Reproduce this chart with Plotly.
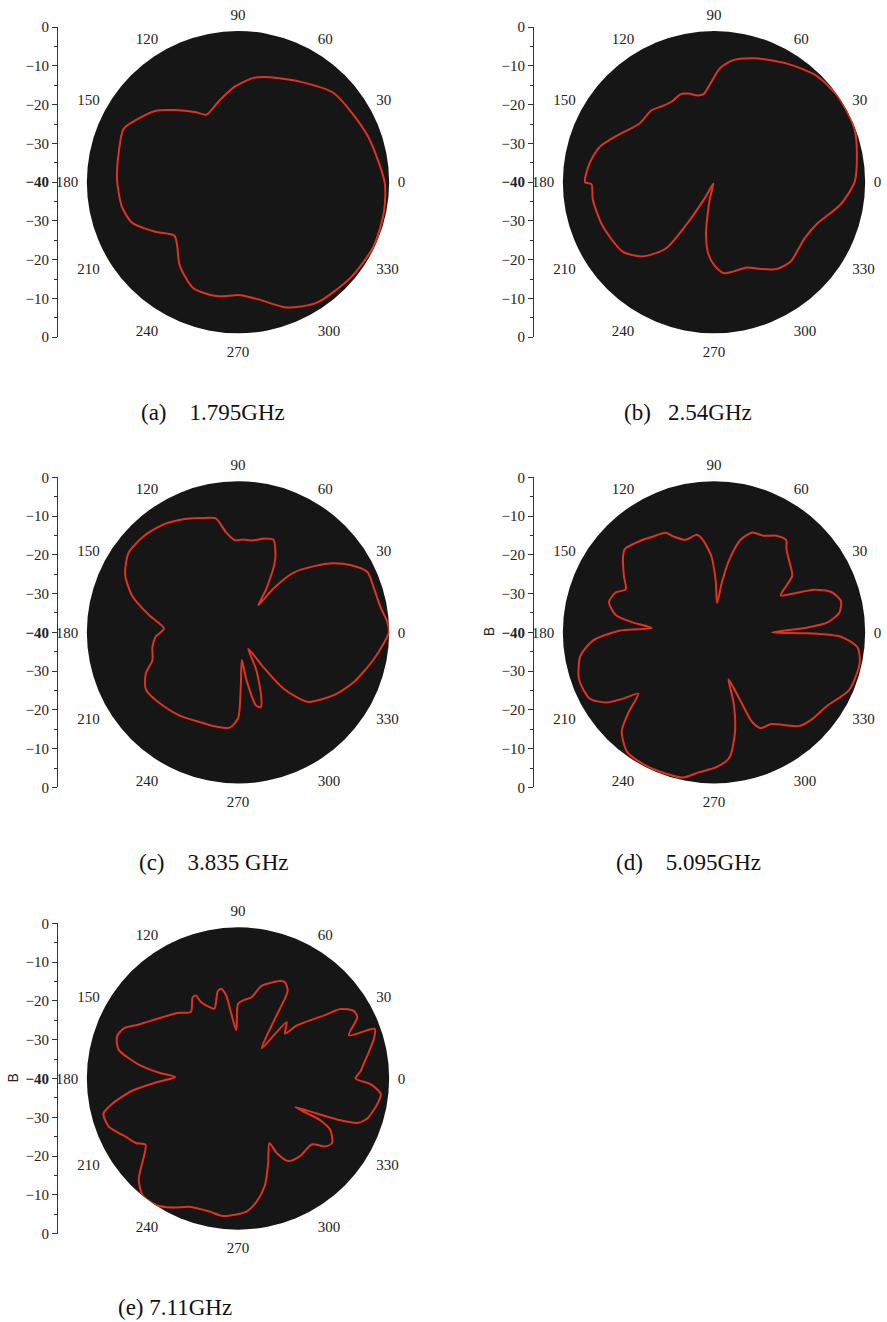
import plotly.graph_objects as go

# Measured behaviour of the renderer: the page is photographed with an extra
# 8px above the figure and a vertical factor of ~0.9876; compensate for both.
TOP_SHIFT = 8
SCALE_Y = 0.9876
W, H = 887, 1331

# ---------------- data (angle in degrees, level in dB) ----------------
theta_a = [0, 20, 43, 58, 75, 82, 93, 103, 115, 121, 131, 139, 147, 155, 165, 179,
           192, 201, 211, 220, 226, 235, 247, 259, 271, 280, 291, 303, 320, 335, 349, 360]
r_a = [-1.2, -3.6, -5.4, -8.7, -11.2, -12.2, -15.0, -17.9, -20.3, -18.4, -14.7, -11.2,
       -8.9, -6.6, -7.4, -8.0, -8.6, -10.0, -14.5, -18.0, -16.8, -13.1, -9.6, -9.3,
       -10.1, -8.5, -4.5, -1.9, -0.9, -0.3, -0.6, -1.2]

theta_b = [0, 10, 21, 34, 46, 58, 72, 81, 87, 92, 97, 101, 106, 111, 117, 124, 131, 142,
           153, 163, 172, 180, 181, 188, 201, 217, 226, 234, 237, 240, 248, 256, 261, 265,
           270, 276, 282, 291, 298, 306, 314, 328, 338, 350, 360]
r_b = [-2.8, -1.6, -0.2, -0.1, -0.9, -3.1, -5.5, -7.3, -9.8, -13.8, -16.6, -16.6, -15.6,
       -15.1, -15.9, -15.7, -14.8, -14.9, -12.0, -8.3, -6.6, -5.9, -7.6, -7.6, -8.3, -9.6,
       -12.7, -18.3, -26.8, -35.2, -39.6, -35.2, -26.5, -21.4, -18.1, -15.8, -15.8, -15.8,
       -14.0, -11.6, -10.8, -11.8, -10.6, -6.0, -2.8]

theta_c = [0, 4, 10, 18, 25, 31, 36, 41, 47, 51, 53, 57, 63, 69, 74, 81, 87, 92, 97, 101,
           106, 115, 124, 134, 144, 153, 161, 169, 177, 183, 190, 198, 204, 212, 224, 235,
           247, 257, 265, 270, 273, 278, 280, 284, 287, 290, 296, 302, 306, 309, 315, 327,
           337, 349, 360]
r_c = [-0.1, -0.4, -1.7, -2.2, -2.2, -5.4, -8.9, -13.3, -18.4, -25.1, -31.1, -26.2, -18.3,
       -13.8, -14.2, -15.4, -15.4, -15.6, -13.2, -9.3, -8.5, -6.9, -5.4, -4.4, -4.2, -6.5,
       -10.4, -16.0, -20.4, -18.2, -17.0, -16.2, -13.3, -11.3, -12.2, -13.1, -14.2, -14.4,
       -14.7, -17.2, -25.8, -32.6, -27.3, -20.0, -19.3, -22.1, -29.0, -34.9, -28.8, -20.8,
       -14.0, -9.6, -6.6, -3.3, -0.1]

theta_d = [0, 3, 5, 9, 14, 19, 23, 26, 29, 33, 36, 43, 49, 52, 57, 63, 69, 74, 78, 81, 84,
           88, 92, 97, 100, 107, 113, 116, 123, 129, 137, 141, 148, 154, 158, 164, 170, 173,
           176, 179, 184, 190, 199, 208, 213, 216, 219, 223, 227, 234, 243, 251, 258, 264,
           271, 277, 282, 285.6, 287.1, 291, 293, 296, 302, 307, 312, 318, 327, 337, 348,
           354, 358, 359.4, 360]
r_d = [-24.6, -15.2, -9.8, -6.4, -5.4, -7.2, -11.2, -16.5, -19.8, -17.0, -14.4, -12.7,
       -10.8, -9.0, -9.5, -11.3, -11.7, -14.5, -20.2, -26.5, -32.2, -26.6, -19.8, -15.3,
       -13.8, -14.4, -12.4, -10.7, -9.9, -8.9, -7.7, -9.0, -11.9, -14.0, -11.9, -11.1,
       -13.6, -18.3, -23.5, -14.9, -7.8, -4.1, -2.2, -2.7, -5.9, -10.1, -14.2, -9.2, -4.2,
       -0.9, -0.4, -0.5, -0.7, -2.8, -4.3, -6.6, -13.2, -20.8, -27.0, -21.0, -14.3, -11.8,
       -11.4, -9.3, -6.6, -5.4, -4.3, -1.1, -0.6, -1.8, -6.4, -15.3, -24.6]

theta_e = [0, 3.4, 7, 11.6, 16.4, 20, 21.3, 27.2, 30.3, 34.1, 36.3, 42, 43.7, 49.2, 52,
           58.3, 60.5, 63.9, 65.9, 75.7, 80.6, 86.3, 90, 92, 95.9, 98.1, 100.6, 102.9, 108.6,
           110.8, 115.8, 116.9, 119.2, 125.3, 132.7, 140.2, 148, 152, 156.3, 160.8, 166.4,
           172, 175.8, 178.6, 182.8, 186.6, 191.4, 194.6, 200.4, 207.3, 212.2, 215.6, 219.6,
           225.4, 230.7, 237, 243.1, 249.2, 257.9, 263.7, 273.6, 278.5, 284.1, 289.7, 295.9,
           297.5, 301.4, 308.6, 318.2, 322.2, 325.5, 330.8, 333.1, 333.4, 336, 337.8, 339.6,
           342.8, 349.7, 353.8, 357.5, 360]
r_e = [-8.9, -7.5, -6.4, -4.6, -2.5, -1.5, -8.5, -4.5, -4.5, -7.2, -11.9, -19.0, -22.8,
       -20.3, -29.8, -21.4, -13.3, -11.7, -11.7, -14.7, -18.2, -19.3, -20.2, -27.2, -22.8,
       -17.8, -15.9, -16.2, -20.5, -20.0, -17.6, -15.4, -15.4, -18.4, -16.4, -14.5, -11.7,
       -9.8, -7.0, -6.1, -7.5, -13.5, -19.1, -23.4, -18.2, -11.8, -6.0, -3.2, -3.5, -6.5,
       -8.0, -9.9, -7.7, -2.6, -0.1, -0.1, -1.7, -3.7, -4.0, -3.4, -4.7, -7.0, -10.8, -16.3,
       -21.0, -17.8, -14.4, -13.7, -13.8, -10.7, -9.8, -12.0, -15.6, -23.1, -17.2, -10.7,
       -6.3, -4.2, -2.5, -2.0, -4.8, -8.9]

captions = ["(a)\u00a0\u00a0\u00a0\u00a01.795GHz", "(b)\u00a0\u00a0\u00a02.54GHz",
            "(c)\u00a0\u00a0\u00a0\u00a03.835 GHz", "(d)\u00a0\u00a0\u00a0\u00a05.095GHz",
            "(e) 7.11GHz"]
angle_ticks = [0, 30, 60, 90, 120, 150, 180, 210, 240, 270, 300, 330]
angle_labels = [str(a) for a in angle_ticks]
scale_vals = [40, 30, 20, 10, 0, -10, -20, -30, -40]
scale_text = ["0", "\u221210", "\u221220", "\u221230", "<b>\u221240</b>",
              "\u221230", "\u221220", "\u221210", "0"]
scale_minor = [35, 25, 15, 5, -5, -15, -25, -35]
side_label = "B"

# ---------------- layout geometry (target picture pixels) ----------------
R = 153        # circle radius
HALF = 155     # half length of the scale bar
panels = [
    # theta, r, circle cx, cy, scale-bar x, caption x, caption y, side label?
    (theta_a, r_a, 238, 182, 58, 213, 412, False),
    (theta_b, r_b, 714, 182, 534, 688, 412, False),
    (theta_c, r_c, 238, 632, 58, 213, 862, False),
    (theta_d, r_d, 714, 632, 534, 688, 862, True),
    (theta_e, r_e, 238, 1078, 58, 175, 1307, True),
]


def px(x):
    return x / W


def py(y):
    return 1 - (y / SCALE_Y - TOP_SHIFT) / H


SERIF = "Liberation Serif, Times New Roman, serif"
LINE_RED = "#e2321f"
BG = "#161616"

fig = go.Figure()
layout = dict(width=W, height=H, margin=dict(l=0, r=0, t=0, b=0),
              paper_bgcolor="white", plot_bgcolor="white", showlegend=False,
              annotations=[])

for i, (th, rr, cx, cy, ax, capx, capy, has_b) in enumerate(panels):
    k = "" if i == 0 else str(i + 1)
    pname = "polar" + k
    fig.add_trace(go.Scatterpolar(
        r=rr, theta=th, mode="lines", subplot=pname,
        line=dict(color=LINE_RED, width=2, shape="spline", smoothing=0.7),
        hoverinfo="skip"))
    # square domain in figure pixels, centred on the target centre
    cyf = cy / SCALE_Y - TOP_SHIFT
    layout[pname] = dict(
        domain=dict(x=[px(cx - R), px(cx + R)],
                    y=[1 - (cyf + R) / H, 1 - (cyf - R) / H]),
        bgcolor=BG,
        radialaxis=dict(range=[-40, 0], visible=False, showgrid=False,
                        showticklabels=False, showline=False, ticks=""),
        angularaxis=dict(tickmode="array", tickvals=angle_ticks, ticktext=angle_labels,
                         direction="counterclockwise", rotation=0,
                         showgrid=False, showline=False, ticks="outside", ticklen=5,
                         tickcolor="rgba(0,0,0,0)",
                         tickfont=dict(family=SERIF, size=15, color="#222")),
    )
    # scale bar on the left
    xa = "xaxis" + k
    ya = "yaxis" + k
    fig.add_trace(go.Scatter(x=[], y=[], xaxis="x" + k, yaxis="y" + k,
                             mode="lines", hoverinfo="skip"))
    layout[xa] = dict(domain=[px(ax), px(ax) + 0.02], range=[0, 1], visible=False,
                      anchor="y" + k)
    layout[ya] = dict(domain=[py(cy + HALF), py(cy - HALF)],
                      range=[-40, 40], anchor="x" + k,
                      tickmode="array", tickvals=scale_vals, ticktext=scale_text,
                      ticks="outside", ticklen=5, tickwidth=1, tickcolor="#333",
                      showline=True, linecolor="#333", linewidth=1,
                      showgrid=False, zeroline=False,
                      tickfont=dict(family=SERIF, size=15, color="#222"),
                      minor=dict(tickmode="array", tickvals=scale_minor, ticks="outside",
                                 ticklen=3, tickcolor="#333", showgrid=False))
    layout["annotations"].append(dict(
        text=captions[i], x=px(capx), y=py(capy), xref="paper", yref="paper",
        showarrow=False, xanchor="center", yanchor="middle",
        font=dict(family=SERIF, size=23, color="#111")))
    if has_b:
        layout["annotations"].append(dict(
            text=side_label, x=px(ax - 45), y=py(cy), xref="paper", yref="paper",
            showarrow=False, textangle=-90, xanchor="center", yanchor="middle",
            font=dict(family="Liberation Sans, Arial, sans-serif", size=14, color="#222")))

fig.update_layout(**layout)
fig.write_html("out.html", config={"displayModeBar": False},
               post_script="document.body.style.margin='0px';"
                           "document.body.style.overflow='hidden';")
